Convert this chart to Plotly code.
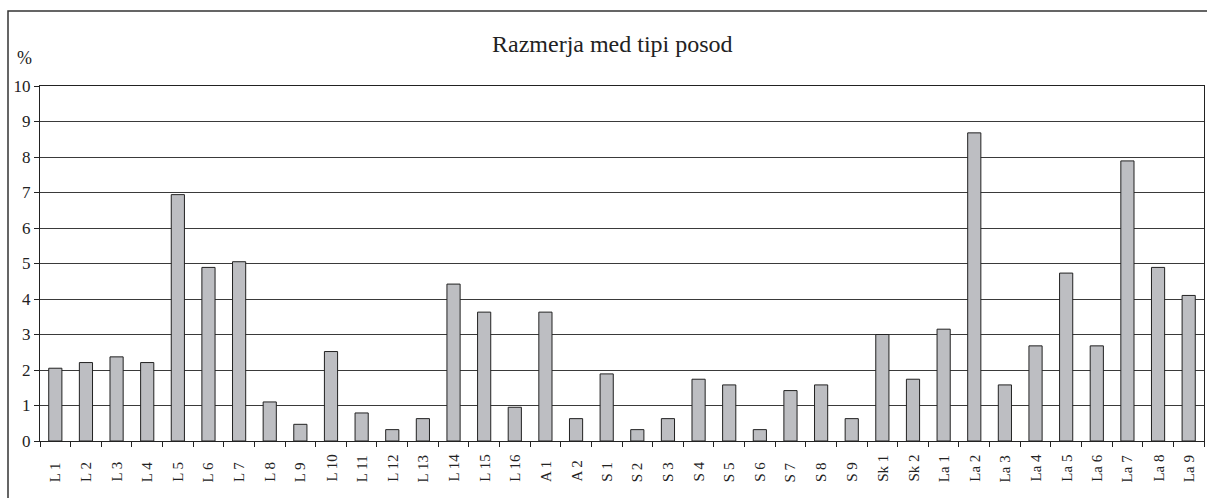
import plotly.graph_objects as go

# Vessel types and their share (%) of the assemblage
categories = [
    "L 1", "L 2", "L 3", "L 4", "L 5", "L 6", "L 7", "L 8", "L 9", "L 10",
    "L 11", "L 12", "L 13", "L 14", "L 15", "L 16", "A 1", "A 2",
    "S 1", "S 2", "S 3", "S 4", "S 5", "S 6", "S 7", "S 8", "S 9",
    "Sk 1", "Sk 2", "La 1", "La 2", "La 3", "La 4", "La 5", "La 6",
    "La 7", "La 8", "La 9",
]
shares = [
    2.05, 2.21, 2.37, 2.21, 6.94, 4.89, 5.05, 1.10, 0.47, 2.52,
    0.79, 0.32, 0.63, 4.42, 3.63, 0.95, 3.63, 0.63,
    1.89, 0.32, 0.63, 1.74, 1.58, 0.32, 1.42, 1.58, 0.63,
    3.00, 1.74, 3.15, 8.68, 1.58, 2.68, 4.73, 2.68,
    7.89, 4.89, 4.10,
]
y_ticks = list(range(0, 11))

title_text = "Razmerja med tipi posod"
unit_text = "%"

W, H = 1207, 498
ML, MR, MT, MB = 40, 3, 86, 57
PW, PH = W - ML - MR, H - MT - MB

SERIF = '"Liberation Serif", "Times New Roman", Times, serif'
INK = "#222222"


def px_x(p):
    return (p - ML) / PW


def px_y(p):
    return (H - MB - p) / PH


fig = go.Figure(
    go.Bar(
        x=categories,
        y=shares,
        marker=dict(color="#bdbec2", line=dict(color=INK, width=1)),
    )
)

# Category labels, rotated and aligned at their bottom end
annotations = [
    dict(
        x=c, xref="x", y=px_y(484), yref="paper",
        text=c, textangle=-90, showarrow=False,
        xanchor="center", yanchor="bottom",
        font=dict(family=SERIF, size=15, color=INK),
    )
    for c in categories
]
annotations.append(
    dict(
        x=px_x(24), xref="paper", y=px_y(58), yref="paper",
        text=unit_text, showarrow=False,
        xanchor="center", yanchor="middle",
        font=dict(family=SERIF, size=18, color=INK),
    )
)
annotations.append(
    dict(
        x=px_x(612.5), xref="paper", y=px_y(44), yref="paper",
        text=title_text, showarrow=False,
        xanchor="center", yanchor="middle",
        font=dict(family=SERIF, size=24, color=INK),
    )
)

fig.update_layout(
    width=W,
    height=H,
    margin=dict(l=ML, r=MR, t=MT, b=MB, pad=0),
    paper_bgcolor="white",
    plot_bgcolor="white",
    showlegend=False,
    bargap=0.57,
    annotations=annotations,
    shapes=[
        # outer chart frame (continues past the right and bottom edges)
        dict(
            type="rect", xref="paper", yref="paper",
            x0=px_x(8), x1=px_x(1215), y0=px_y(510), y1=px_y(11),
            line=dict(color="#333333", width=1.5), layer="below",
        )
    ],
    xaxis=dict(
        type="category",
        showticklabels=False,
        ticks="outside",
        tickson="boundaries",
        ticklen=5,
        tickcolor=INK,
        showline=True,
        linecolor=INK,
        linewidth=1,
        mirror=True,
        showgrid=False,
        zeroline=False,
    ),
    yaxis=dict(
        range=[0, 10],
        tickvals=y_ticks,
        ticks="outside",
        ticklen=5,
        tickcolor=INK,
        showline=True,
        linecolor=INK,
        linewidth=1,
        mirror=True,
        showgrid=True,
        gridcolor="#3a3a3a",
        gridwidth=1,
        zeroline=False,
        tickfont=dict(family=SERIF, size=17, color=INK),
    ),
)

fig.write_html("out.html")
